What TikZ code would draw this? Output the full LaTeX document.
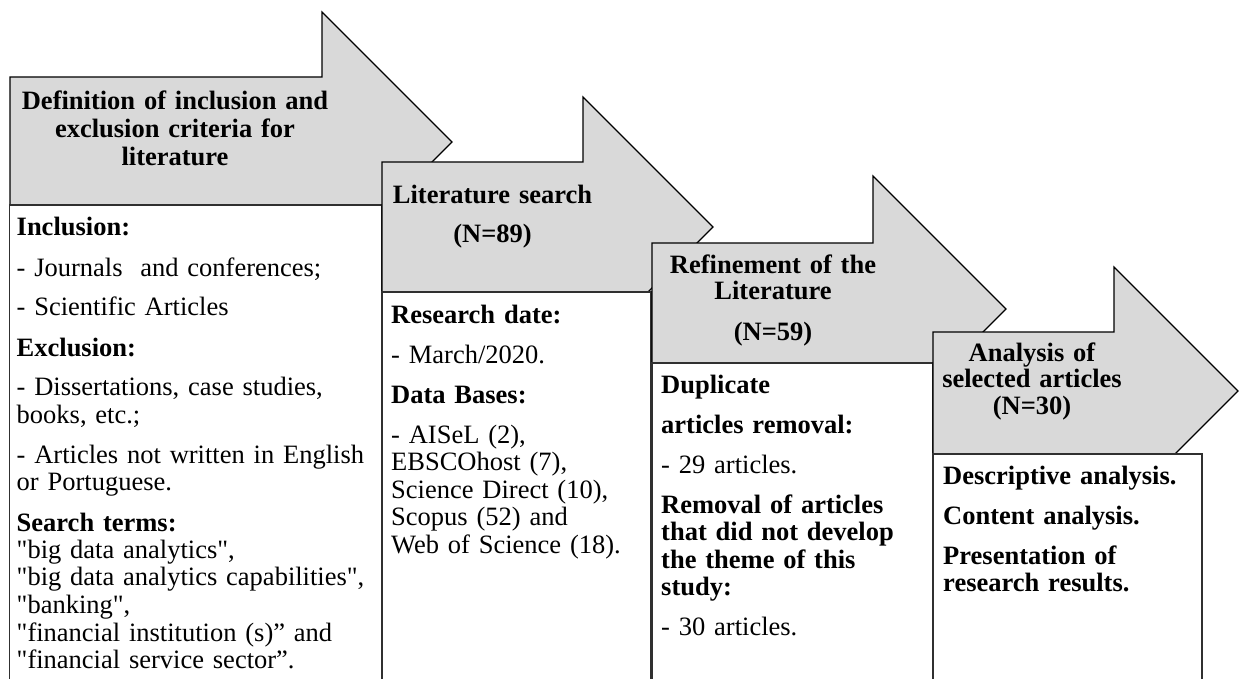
\documentclass[tikz,border=0pt]{standalone}
\usepackage{fontspec}
\newfontfamily\tnr{Liberation Serif}
\definecolor{arrowgray}{HTML}{D9D9D9}
\definecolor{panelgray}{HTML}{303030}
\newcommand\gapline{\\[12.5pt]}
\begin{document}
\begin{tikzpicture}[x=1pt,y=-1pt,
  arrowshape/.style={fill=arrowgray,draw=black,line width=1.1pt,line join=miter},
  panel/.style={fill=white},
  panelline/.style={draw=panelgray,line width=1.1pt},
  headtext/.style={inner sep=0pt,anchor=base,align=center,text width=#1,font=\tnr\bfseries\fontsize{26.5}{27.5}\selectfont},
  bodytext/.style={inner sep=0pt,anchor=base west,align=left,text width=#1,font=\tnr\fontsize{26.5}{27.5}\selectfont}]
\useasboundingbox (0,0) rectangle (1239,679);

% stage 1
\path[arrowshape] (10,77) -- (322,77) -- (322,12) -- (452,142) -- (322,272) -- (322,207) -- (10,207) -- cycle;
\fill[panel] (9.5,205) rectangle (382,680);
\draw[panelline] (9.5,680) -- (9.5,205) -- (382,205) -- (382,680);

% stage 2
\path[arrowshape] (382,162) -- (583,162) -- (583,97) -- (713,227) -- (583,357) -- (583,293) -- (382,293) -- cycle;
\fill[panel] (382,292) rectangle (651,680);
\draw[panelline] (382,680) -- (382,292) -- (651,292) -- (651,680);

% stage 3
\path[arrowshape] (652,243) -- (873,243) -- (873,176) -- (1006,309) -- (873,442) -- (873,375) -- (652,375) -- cycle;
\fill[panel] (652,363) rectangle (933,680);
\draw[panelline] (652,680) -- (652,363) -- (933,363) -- (933,680);

% stage 4
\path[arrowshape] (933,332) -- (1114,332) -- (1114,267) -- (1238,391) -- (1114,515) -- (1114,458) -- (933,458) -- cycle;
\fill[panel] (933,454) rectangle (1202,680);
\draw[panelline] (933,680) -- (933,454) -- (1202,454) -- (1202,680);

% headings
\node[headtext=330] (h1) at (175,110) {Definition of inclusion and\\[0.5pt] exclusion criteria for\\[0.5pt] literature};
\node[headtext=250] (h2) at (492.5,204) {Literature search\\[11.5pt] (N=89)};
\node[headtext=230] (h3) at (773,273) {Refinement of the\\[-1.5pt] Literature\\[13.5pt] (N=59)};
\node[headtext=220] (h4) at (1032,361) {Analysis of\\[-1.5pt] selected articles\\[-0.5pt] (N=30)};

% bodies
\node[bodytext=365] (b1) at (16.5,236) {\textbf{Inclusion:}\gapline
- Journals\ \ and conferences;\gapline
- Scientific Articles\gapline
\textbf{Exclusion:}\gapline
- Dissertations, case studies,\\
books, etc.;\gapline
- Articles not written in English\\
or Portuguese.\gapline
\textbf{Search terms:}\\
"big data analytics",\\
"big data analytics capabilities",\\
"banking",\\
"financial institution (s)” and\\
"financial service sector”.};

\node[bodytext=255] (b2) at (391,323) {\textbf{Research date:}\gapline
- March/2020.\gapline
\textbf{Data Bases:}\gapline
- AISeL (2),\\
EBSCOhost (7),\\
Science Direct (10),\\
Scopus (52) and\\
Web of Science (18).};

\node[bodytext=265] (b3) at (661,393) {\textbf{Duplicate}\gapline
\textbf{articles removal:}\gapline
- 29 articles.\gapline
\textbf{Removal of articles}\\
\textbf{that did not develop}\\
\textbf{the theme of this}\\
\textbf{study:}\gapline
- 30 articles.};

\node[bodytext=255] (b4) at (943,484) {\textbf{Descriptive analysis.}\gapline
\textbf{Content analysis.}\gapline
\textbf{Presentation of}\\
\textbf{research results.}};
\end{tikzpicture}
\end{document}
